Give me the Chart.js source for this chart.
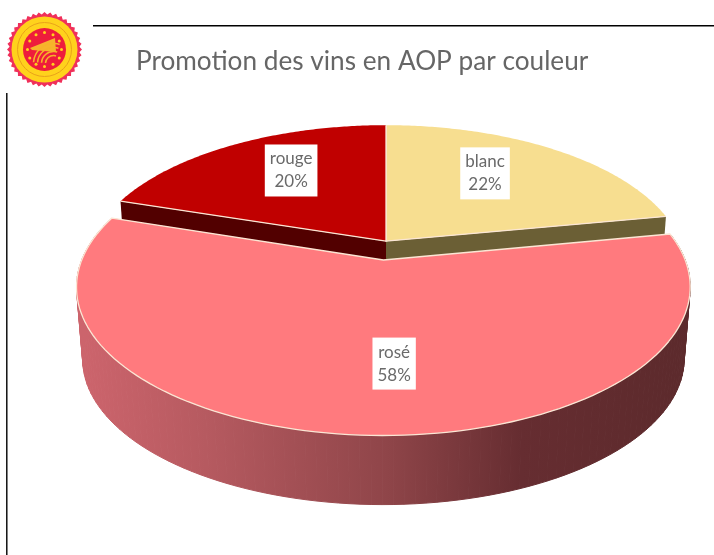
<!DOCTYPE html>
<html><head><meta charset="utf-8">
<style>html,body{margin:0;padding:0;background:#fff}canvas{display:block}</style>
<script src="https://cdn.jsdelivr.net/npm/chart.js@4"></script>
</head><body><canvas id="c" width="714" height="555"></canvas>
<script>
const categories = ['blanc','rosé','rouge'];
const values = [22,58,20];
const topColors = ['#f7de90','#ff7a7e','#c00000'];
const wallColors = ['#6b5f35','#8f4549','#520000'];
const explode = [0,19,0];
const labelNudge = [[-13,-5],[25,-2],[8,-5]];
const titleText = 'Promotion des vins en AOP par couleur';

const PERSP=-0.178, WIDE=294.5, TALL=136.7, DEPTH=73, BOTTOM=0.98, EDGE='#fbe6d4';
const FONT='Lato, "Open Sans", sans-serif';

function project(a,U,V,lower){
  const s=lower?BOTTOM:1, d=1+PERSP*V;
  return [a.x+s*WIDE*U/d, a.y+s*TALL*V/d+(lower?DEPTH:0)];
}
function pt(a,ang,r,lower){
  const mid=(a.startAngle+a.endAngle)/2, e=a.options.offset/a.outerRadius;
  return project(a,r*Math.cos(ang)+e*Math.cos(mid), r*Math.sin(ang)+e*Math.sin(mid), lower);
}
function arcPts(a,lower){
  const p=[],n=120;
  for(let i=0;i<=n;i++) p.push(pt(a,a.startAngle+(a.endAngle-a.startAngle)*i/n,1,lower));
  return p;
}
function poly(ctx,pts){ctx.beginPath();pts.forEach((q,i)=>i?ctx.lineTo(q[0],q[1]):ctx.moveTo(q[0],q[1]));ctx.closePath();}

function drawLogo(ctx){
  const cx=44.5,cy=49.5;
  ctx.save();
  ctx.fillStyle='#f0305a';ctx.beginPath();
  for(let i=0;i<80;i++){const t=i/80*2*Math.PI,r=i%2?35:37.5;ctx.lineTo(cx+r*Math.cos(t),cy+r*Math.sin(t));}
  ctx.closePath();ctx.fill();
  ctx.fillStyle='#ffd21c';ctx.beginPath();ctx.arc(cx,cy,33,0,7);ctx.fill();
  ctx.strokeStyle='#e9a21a';ctx.lineWidth=1;ctx.beginPath();ctx.arc(cx,cy,27,0,7);ctx.stroke();
  ctx.fillStyle='#ee1c3c';ctx.beginPath();ctx.arc(cx,cy,21.5,0,7);ctx.fill();
  ctx.fillStyle='#ffd21c';
  for(let i=0;i<12;i++){const t=i/12*2*Math.PI;ctx.beginPath();ctx.arc(cx+17*Math.cos(t),cy+17*Math.sin(t),1.5,0,7);ctx.fill();}
  ctx.fillStyle='#f7b42c';ctx.beginPath();ctx.moveTo(30,48);ctx.lineTo(55,38);ctx.lineTo(56,52);ctx.lineTo(32,50);ctx.closePath();ctx.fill();
  ctx.strokeStyle='#f6b32a';ctx.lineWidth=1.6;
  [8,12,16,20].forEach(r=>{ctx.beginPath();ctx.arc(cx+9,cy+14,r,Math.PI*1.02,Math.PI*1.6);ctx.stroke();});
  ctx.restore();
}

const pie3d={
  id:'pie3d',
  beforeDraw(chart){
    const ctx=chart.ctx;
    ctx.save();
    ctx.fillStyle='#fff';ctx.fillRect(0,0,714,555);
    ctx.strokeStyle='#000';ctx.lineWidth=1.4;
    ctx.beginPath();ctx.moveTo(93,25.7);ctx.lineTo(714,25.7);ctx.moveTo(6.8,93);ctx.lineTo(6.8,555);ctx.stroke();
    ctx.restore();
    drawLogo(ctx);
  },
  beforeDatasetDraw(chart){
    const ctx=chart.ctx, arcs=chart.getDatasetMeta(0).data;
    ctx.save();ctx.lineJoin='round';
    const back=[0,2], front=1;
    back.forEach(i=>{
      const a=arcs[i], ang=i===0?a.endAngle:a.startAngle;
      const o=pt(a,0,0,false),e=pt(a,ang,1,false),e2=pt(a,ang,1,true),o2=pt(a,0,0,true);
      ctx.fillStyle=wallColors[i];poly(ctx,[o,e,e2,o2]);ctx.fill();
    });
    back.forEach(i=>{
      const a=arcs[i], top=arcPts(a,false), o=pt(a,0,0,false);
      ctx.fillStyle=a.options.backgroundColor;poly(ctx,[o,...top]);ctx.fill();
      ctx.strokeStyle=EDGE;ctx.lineWidth=1.3;
      ctx.beginPath();ctx.moveTo(top[0][0],top[0][1]);ctx.lineTo(o[0],o[1]);ctx.lineTo(top[120][0],top[120][1]);ctx.stroke();
    });
    const a=arcs[front], top=arcPts(a,false), low=arcPts(a,true), o=pt(a,0,0,false);
    const g=ctx.createLinearGradient(85,0,690,0);
    g.addColorStop(0,'#cc646c');g.addColorStop(.2,'#b65a60');g.addColorStop(.5,wallColors[front]);
    g.addColorStop(.72,'#662d31');g.addColorStop(1,'#5c2a2c');
    ctx.fillStyle=g;ctx.strokeStyle=g;ctx.lineWidth=1;
    for(let i=0;i<120;i++){
      poly(ctx,[top[i],top[i+1],low[i+1],low[i]]);ctx.fill();ctx.stroke();
    }
    ctx.fillStyle=a.options.backgroundColor;poly(ctx,[o,...top]);ctx.fill();
    ctx.strokeStyle=EDGE;ctx.lineWidth=1.3;poly(ctx,[o,...top]);ctx.stroke();
    ctx.restore();
    return false;
  },
  afterDatasetsDraw(chart){
    const ctx=chart.ctx, arcs=chart.getDatasetMeta(0).data;
    ctx.save();
    ctx.font='17px '+FONT;ctx.textAlign='center';ctx.textBaseline='middle';
    arcs.forEach((a,i)=>{
      const mid=(a.startAngle+a.endAngle)/2, q=pt(a,mid,0.65,false);
      const x=q[0]+labelNudge[i][0], y=q[1]+labelNudge[i][1];
      const lines=[categories[i],values[i]+'%'];
      const w=Math.max(...lines.map(t=>ctx.measureText(t).width))+10;
      ctx.fillStyle='#fff';ctx.fillRect(x-w/2,y-26,w,52);
      ctx.fillStyle='#6a6a6a';
      ctx.fillText(lines[0],x,y-11.5);ctx.fillText(lines[1],x,y+11.5);
    });
    ctx.restore();
  }
};

new Chart(document.getElementById('c'),{
  type:'pie',
  data:{labels:categories,datasets:[{data:values,backgroundColor:topColors,offset:explode,borderWidth:0}]},
  plugins:[pie3d],
  options:{
    responsive:false,animation:false,
    layout:{padding:{left:136,right:78,top:36,bottom:163}},
    plugins:{
      legend:{display:false},tooltip:{enabled:false},
      title:{display:true,text:titleText,align:'start',color:'#666',
        font:{family:FONT,size:26.2,weight:'normal'},padding:{top:10,bottom:13}}
    }
  }
});
</script></body></html>
